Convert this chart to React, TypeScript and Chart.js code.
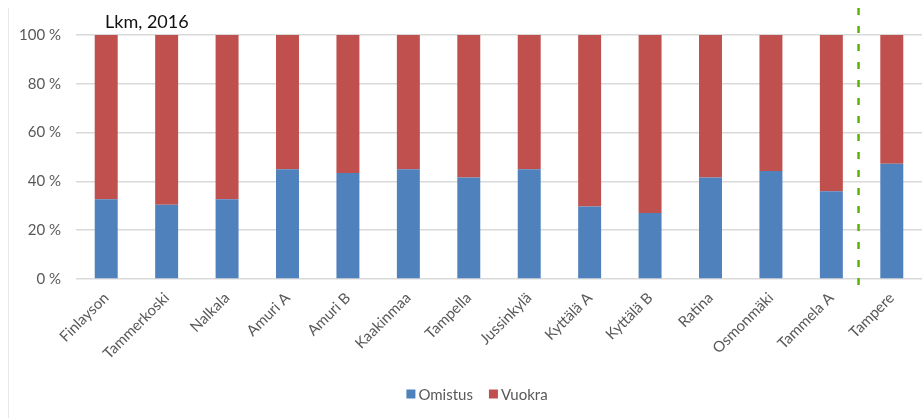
import React, { useEffect, useRef } from "react";
import { Chart, registerables } from "chart.js";

Chart.register(...registerables);

// Alueet (districts) and the share of owner-occupied vs. rented dwellings, %
const categories = [
  "Finlayson",
  "Tammerkoski",
  "Nalkala",
  "Amuri A",
  "Amuri B",
  "Kaakinmaa",
  "Tampella",
  "Jussinkylä",
  "Kyttälä A",
  "Kyttälä B",
  "Ratina",
  "Osmonmäki",
  "Tammela A",
  "Tampere",
];

const omistus = [32.7, 30.4, 32.7, 45.0, 43.4, 45.0, 41.6, 45.0, 29.7, 27.0, 41.6, 44.3, 36.0, 47.2];
const vuokra = [67.3, 69.6, 67.3, 55.0, 56.6, 55.0, 58.4, 55.0, 70.3, 73.0, 58.4, 55.7, 64.0, 52.8];

const yTicks = [0, 20, 40, 60, 80, 100];

const title = "Lkm, 2016";
const FONT = "Lato, 'Open Sans', sans-serif";
const GREY_TEXT = "#595959";
const GRID = "#d9d9d9";

// Draws the title, the legend, the separator before the city-wide bar and the faint frame edge.
const decorations = {
  id: "decorations",
  afterDraw(chart: Chart) {
    const { ctx, chartArea, scales } = chart;
    const x = scales.x;
    ctx.save();

    // faint frame edge on the left
    ctx.strokeStyle = "#e8e8e8";
    ctx.lineWidth = 1;
    ctx.beginPath();
    ctx.moveTo(8.5, 8);
    ctx.lineTo(8.5, chart.height);
    ctx.stroke();

    // dashed separator between the districts and the whole city
    const a = x.getPixelForValue(categories.length - 2);
    const b = x.getPixelForValue(categories.length - 1);
    const sx = a + (b - a) * 0.45;
    ctx.strokeStyle = "#5cb300";
    ctx.lineWidth = 2.5;
    ctx.setLineDash([7, 11]);
    ctx.beginPath();
    ctx.moveTo(sx, 8);
    ctx.lineTo(sx, chartArea.bottom + 14);
    ctx.stroke();
    ctx.setLineDash([]);

    // chart title
    ctx.fillStyle = "#111";
    ctx.font = `18px ${FONT}`;
    ctx.textBaseline = "middle";
    ctx.textAlign = "left";
    ctx.fillText(title, chartArea.left + 29, 22);

    // legend: small square swatch, then the series name
    ctx.font = `15px ${FONT}`;
    const box = 9;
    const gapBoxText = 3;
    const gapItems = 16;
    const items = chart.data.datasets.map((ds) => ({
      label: String(ds.label),
      color: String(ds.backgroundColor),
      w: ctx.measureText(String(ds.label)).width,
    }));
    const total =
      items.reduce((s, it) => s + box + gapBoxText + it.w, 0) + gapItems * (items.length - 1);
    const cy = 394;
    let lx = chart.width / 2 + 16 - total / 2;
    for (const it of items) {
      ctx.fillStyle = it.color;
      ctx.fillRect(lx, cy - box / 2, box, box);
      lx += box + gapBoxText;
      ctx.fillStyle = GREY_TEXT;
      ctx.fillText(it.label, lx, cy + 1);
      lx += it.w + gapItems;
    }

    ctx.restore();
  },
};

export default function App() {
  const canvasRef = useRef<HTMLCanvasElement | null>(null);

  useEffect(() => {
    document.body.style.margin = "0";
    const canvas = canvasRef.current;
    if (!canvas) return;
    const chart = new Chart(canvas, {
      type: "bar",
      data: {
        labels: categories,
        datasets: [
          {
            label: "Omistus",
            data: omistus,
            backgroundColor: "#4f81bd",
            categoryPercentage: 1,
            barPercentage: 0.38,
          },
          {
            label: "Vuokra",
            data: vuokra,
            backgroundColor: "#c0504d",
            categoryPercentage: 1,
            barPercentage: 0.38,
          },
        ],
      },
      options: {
        animation: false,
        responsive: false,
        maintainAspectRatio: false,
        layout: { padding: { top: 35, left: 0, right: 0, bottom: 39 } },
        scales: {
          x: {
            stacked: true,
            grid: { display: false },
            border: { display: false },
            ticks: {
              color: GREY_TEXT,
              font: { family: FONT, size: 15 },
              maxRotation: 45,
              minRotation: 45,
              autoSkip: false,
              padding: 2,
            },
            afterFit(scale: any) {
              scale.height = 100;
            },
          },
          y: {
            stacked: true,
            min: 0,
            max: 100,
            afterBuildTicks(scale: any) {
              scale.ticks = yTicks.map((v) => ({ value: v }));
            },
            grid: { color: GRID, drawTicks: false, lineWidth: 1.5 },
            border: { display: false },
            ticks: {
              color: GREY_TEXT,
              font: { family: FONT, size: 15 },
              padding: 15,
              callback: (v: any) => `${v} %`,
            },
            afterFit(scale: any) {
              scale.width = 76;
            },
          },
        },
        plugins: {
          legend: { display: false },
          tooltip: { enabled: false },
          title: { display: false },
        },
      },
      plugins: [decorations],
    });
    return () => chart.destroy();
  }, []);

  return (
    <div style={{ width: 922, height: 418, background: "#fff" }}>
      <canvas ref={canvasRef} width={922} height={418} />
    </div>
  );
}
